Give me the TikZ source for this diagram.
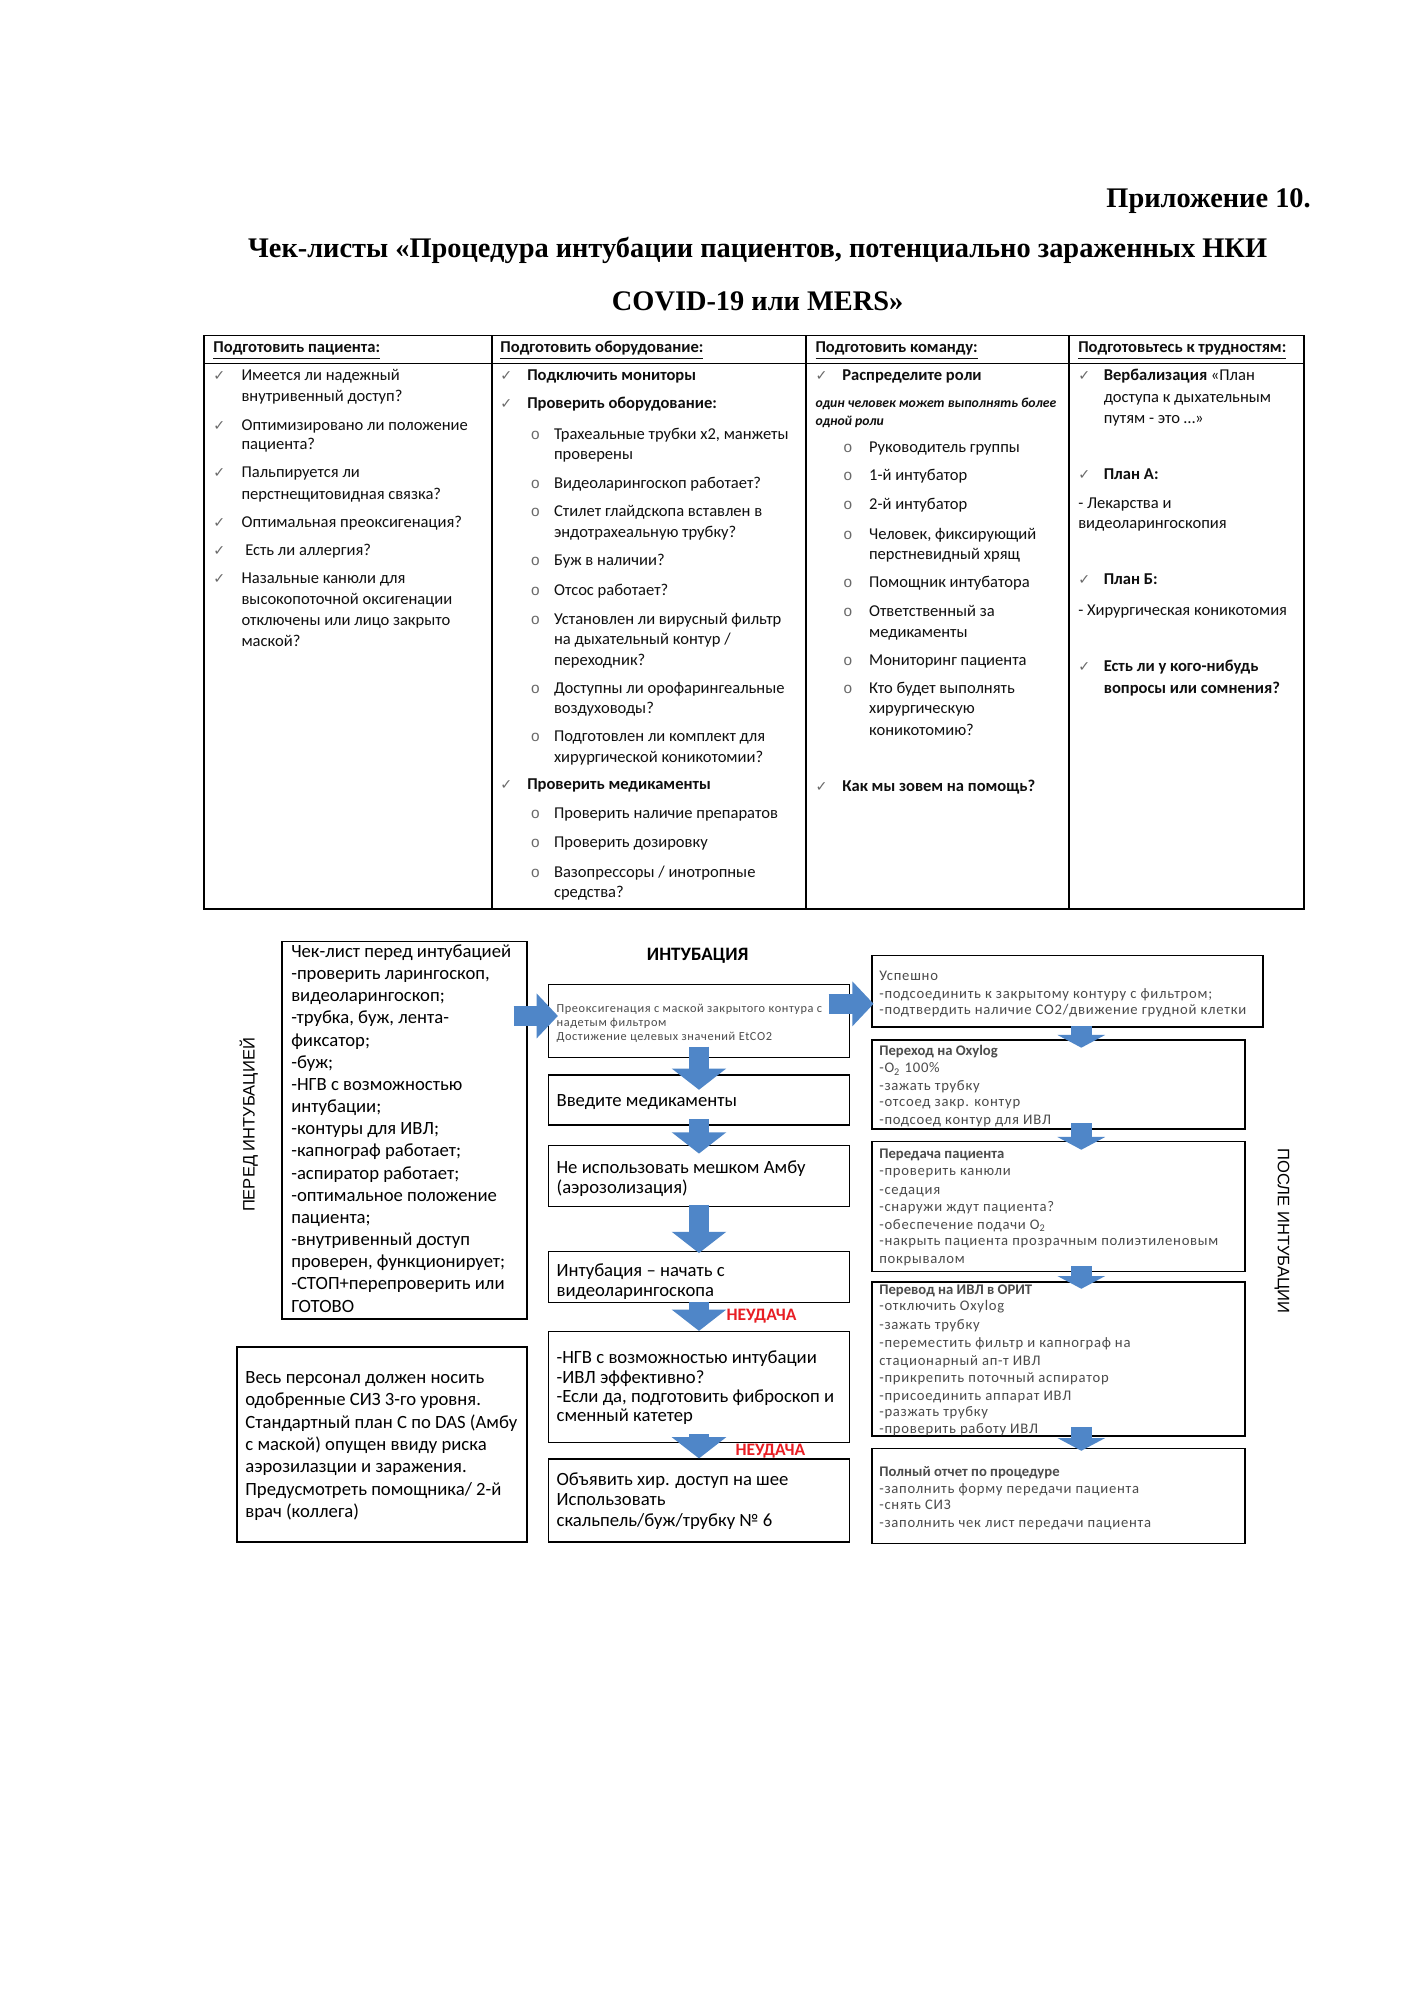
\documentclass[tikz,border=0pt]{standalone}
\usepackage{fontspec}
\setmainfont{Carlito}
\newfontfamily\titlefont{Liberation Serif}
\newfontfamily\capsfont{Liberation Sans}
\newfontfamily\tickfont{DejaVu Sans}
\newfontfamily\widefont[LetterSpace=5]{Carlito}
\usetikzlibrary{arrows.meta,calc,fit}

\definecolor{flowblue}{RGB}{79,134,200}
\definecolor{failred}{RGB}{232,30,36}
\definecolor{tickgray}{RGB}{105,105,105}
\definecolor{softtext}{RGB}{75,75,75}
\definecolor{inktext}{RGB}{15,15,15}

\newcommand{\px}{0.5393pt}
\newcommand{\tick}{{\tickfont\fontsize{6}{6}\selectfont\color{tickgray}✓}}
\newcommand{\ring}{{\capsfont\fontsize{6.5}{6}\selectfont\color{tickgray}o}}

\begin{document}
\begin{tikzpicture}[x=\px,y=-\px,
    ln/.style={anchor=west,inner sep=0pt,text height=0.7em,text depth=0.2em},
    cell/.style={ln,text=inktext,font=\fontsize{7.0}{8}\selectfont},
    cellb/.style={cell,font=\fontsize{7.0}{8}\selectfont\bfseries},
    note/.style={ln,text=inktext,font=\fontsize{5.8}{6}\selectfont\bfseries\itshape},
    flowtxt/.style={ln,font=\fontsize{7.9}{9}\selectfont},
    smalltxt/.style={ln,text=softtext,font=\widefont\fontsize{6.2}{7}\selectfont},
    tinytxt/.style={ln,text=softtext,font=\widefont\fontsize{5.2}{6}\selectfont},
    box/.style={draw,line width=0.65pt,inner sep=0pt},
    fail/.style={inner sep=0pt,text=failred,font=\fontsize{7.4}{8}\selectfont\bfseries},
    sidelabel/.style={inner sep=0pt,font=\capsfont\fontsize{7}{8}\selectfont},
    bigdown/.style={flowblue,line width=8.6pt,-{Triangle[width=22.6pt,length=9pt]}},
    bigright/.style={flowblue,line width=8.6pt,-{Triangle[width=18.5pt,length=9pt]}},
    smalldown/.style={flowblue,line width=8.6pt,-{Triangle[width=20pt,length=5.4pt]}},
]
\fill[white] (0,0) rectangle (1108,1568);
\useasboundingbox (0,0) rectangle (1108,1568);

% title
\node[anchor=east,inner sep=0pt,font=\titlefont\bfseries\fontsize{12}{14}\selectfont] (annex) at (1028,158) {Приложение 10.};
\node[inner sep=0pt,font=\titlefont\bfseries\fontsize{12}{14}\selectfont] (title1) at (594,196) {Чек-листы «Процедура интубации пациентов, потенциально зараженных НКИ};
\node[inner sep=0pt,font=\titlefont\bfseries\fontsize{12}{14}\selectfont] (title2) at (594,236) {COVID-19 или MERS»};

% checklist table
\draw[line width=0.8pt] (160,263) rectangle (1022,713);
\draw[line width=0.8pt] (160,285) -- (1022,285);
\foreach \xx in {386,632,838}
    \draw[line width=0.8pt] (\xx,263) -- (\xx,713);

\foreach \xx/\lbl [count=\i] in {167/Подготовить пациента:,392/Подготовить оборудование:,
                                 639/Подготовить команду:,845/Подготовьтесь к трудностям:}
    \node[cellb] (head-\i) at (\xx,272) {\underline{\lbl}};

% column 1
\foreach \yy in {294,333,370,409,431,453}
    \node[ln] (tick1-\yy) at (167,\yy) {\tick};
\foreach \yy/\lbl [count=\i] in {294/Имеется ли надежный,310/внутривенный доступ?,
        333/Оптимизировано ли положение,348/пациента?,370/Пальпируется ли,
        387/перстнещитовидная связка?,409/Оптимальная преоксигенация?,431/\ Есть ли аллергия?,
        453/Назальные канюли для,469/высокопоточной оксигенации,
        486/отключены или лицо закрыто,502/маской?}
    \node[cell] (pat-\i) at (189,\yy) {\lbl};

% column 2
\foreach \yy in {294,316,614}
    \node[ln] (tick2-\yy) at (392,\yy) {\tick};
\foreach \yy/\lbl [count=\i] in {294/Подключить мониторы,316/Проверить оборудование:,614/Проверить медикаменты}
    \node[cellb] (equ-\i) at (413,\yy) {\lbl};
\foreach \yy in {340,378,400,439,462,485,539,577,637,660,683}
    \node[ln] (ring2-\yy) at (416,\yy) {\ring};
\foreach \yy/\lbl [count=\i] in {340/Трахеальные трубки x2{,} манжеты,356/проверены,
        378/Видеоларингоскоп работает?,400/Стилет глайдскопа вставлен в,
        417/эндотрахеальную трубку?,439/Буж в наличии?,462/Отсос работает?,
        485/Установлен ли вирусный фильтр,501/{на дыхательный контур /},517/переходник?,
        539/Доступны ли орофарингеальные,555/воздуховоды?,
        577/Подготовлен ли комплект для,593/хирургической коникотомии?,
        637/Проверить наличие препаратов,660/Проверить дозировку,
        683/{Вазопрессоры / инотропные},699/средства?}
    \node[cell] (sub2-\i) at (434,\yy) {\lbl};

% column 3
\foreach \yy in {294,616}
    \node[ln] (tick3-\yy) at (639,\yy) {\tick};
\node[cellb] (team-1) at (660,294) {Распределите роли};
\node[cellb] (team-2) at (660,616) {Как мы зовем на помощь?};
\node[note] (note-1) at (639,315) {один человек может выполнять более};
\node[note] (note-2) at (639,329) {одной роли};
\foreach \yy in {350,372,395,418,456,479,517,539}
    \node[ln] (ring3-\yy) at (661,\yy) {\ring};
\foreach \yy/\lbl [count=\i] in {350/Руководитель группы,372/1-й интубатор,395/2-й интубатор,
        418/Человек{,} фиксирующий,434/перстневидный хрящ,456/Помощник интубатора,
        479/Ответственный за,495/медикаменты,517/Мониторинг пациента,
        539/Кто будет выполнять,555/хирургическую,572/коникотомию?}
    \node[cell] (sub3-\i) at (681,\yy) {\lbl};

% column 4
\foreach \yy in {294,371,454,522}
    \node[ln] (tick4-\yy) at (845,\yy) {\tick};
\foreach \yy/\lbl [count=\i] in {294/\textbf{Вербализация} «План,311/доступа к дыхательным,
        327/путям - это …»,371/\textbf{План А:},454/\textbf{План Б:},
        522/\textbf{Есть ли у кого-нибудь},539/\textbf{вопросы или сомнения?}}
    \node[cell] (hard-\i) at (865,\yy) {\lbl};
\foreach \yy/\lbl [count=\i] in {394/- Лекарства и,410/видеоларингоскопия,478/- Хирургическая коникотомия}
    \node[cell] (plan-\i) at (845,\yy) {\lbl};

% before intubation
\node[sidelabel,rotate=90] (before) at (195,882) {ПЕРЕД ИНТУБАЦИЕЙ};
\node[box,fit={(221,738) (413,1034)}] (l1) {};
\foreach \lbl [count=\i] in {Чек-лист перед интубацией,-проверить ларингоскоп{,},
        видеоларингоскоп;,-трубка{,} буж{,} лента-,фиксатор;,-буж;,-НГВ с возможностью,
        интубации;,-контуры для ИВЛ;,-капнограф работает;,-аспиратор работает;,
        -оптимальное положение,пациента;,-внутривенный доступ,
        проверен{,} функционирует;,-СТОП+перепроверить или,ГОТОВО}
    \node[flowtxt] (chk-\i) at (228,{746+17.375*(\i-1)}) {\lbl};

\node[box,fit={(186,1056) (413,1209)}] (l2) {};
\foreach \lbl [count=\i] in {Весь персонал должен носить,одобренные СИЗ 3-го уровня.,
        Стандартный план С по DAS (Амбу,с маской) опущен ввиду риска,
        аэрозилазции и заражения.,Предусмотреть помощника/ 2-й,врач (коллега)}
    \node[flowtxt] (ppe-\i) at (192,{1080+17.5*(\i-1)}) {\lbl};

% intubation
\node[inner sep=0pt,font=\fontsize{8}{9}\selectfont\bfseries] (intub) at (547,749) {ИНТУБАЦИЯ};
\node[box,fit={(430,772) (666,829)}] (c1) {};
\node[box,fit={(430,843) (666,882)}] (c2) {};
\node[box,fit={(430,898) (666,946)}] (c3) {};
\node[box,fit={(430,981) (666,1021)}] (c4) {};
\node[box,fit={(430,1044) (666,1131)}] (c5) {};
\node[box,fit={(430,1144) (666,1209)}] (c6) {};

\foreach \yy/\lbl [count=\i] in {789/Преоксигенация  с маской  закрытого контура с,
        800/надетым фильтром,811/Достижение  целевых  значений  EtCO2}
    \node[tinytxt] (preox-\i) at (436,\yy) {\lbl};
\node[flowtxt] (drugs) at (436,863) {Введите медикаменты};
\node[flowtxt] (ambu-1) at (436,915) {Не использовать мешком Амбу};
\node[flowtxt] (ambu-2) at (436,931) {(аэрозолизация)};
\node[flowtxt] (vl-1) at (436,996) {Интубация – начать с};
\node[flowtxt] (vl-2) at (436,1012) {видеоларингоскопа};
\foreach \yy/\lbl [count=\i] in {1064/-НГВ с возможностью интубации,1080/-ИВЛ эффективно?,
        1095/-Если да{,} подготовить фиброскоп и,1110/сменный катетер}
    \node[flowtxt] (sga-\i) at (436,\yy) {\lbl};
\foreach \yy/\lbl [count=\i] in {1160/Объявить хир. доступ на шее,1176/Использовать,
        1192/{скальпель/буж/трубку № 6}}
    \node[flowtxt] (fona-\i) at (436,\yy) {\lbl};

\node[fail] (fail1) at (597,1032) {НЕУДАЧА};
\node[fail] (fail2) at (604,1138) {НЕУДАЧА};

% after intubation
\node[sidelabel,rotate=-90] (after) at (1005,965) {ПОСЛЕ ИНТУБАЦИИ};
\node[box,fit={(683.5,749) (990,805)}] (r1) {};
\node[box,fit={(683.5,815.5) (976,885)}] (r2) {};
\node[box,fit={(683.5,895) (976,997)}] (r3) {};
\node[box,fit={(683.5,1005) (976,1126)}] (r4) {};
\node[box,fit={(683.5,1135.5) (976,1210)}] (r5) {};

\foreach \yy/\lbl [count=\i] in {764/Успешно,778/-подсоединить к закрытому  контуру с фильтром;,
        791/{-подтвердить  наличие  CO2/движение  грудной клетки}}
    \node[smalltxt] (ok-\i) at (689,\yy) {\lbl};
\foreach \yy/\lbl [count=\i] in {823/{\normalfont\bfseries Переход на Oxylog},836.5/-O\textsubscript{2} 100\%,
        850/-зажать  трубку,863/-отсоед  закр.  контур,877/-подсоед контур для  ИВЛ}
    \node[smalltxt] (oxy-\i) at (689,\yy) {\lbl};
\foreach \yy/\lbl [count=\i] in {904/{\normalfont\bfseries Передача пациента},917/-проверить  канюли,
        932/-седация,945/-снаружи  ждут пациента?,959/-обеспечение  подачи  O\textsubscript{2},
        972/-накрыть  пациента  прозрачным  полиэтиленовым,986/покрывалом}
    \node[smalltxt] (move-\i) at (689,\yy) {\lbl};
\foreach \yy/\lbl [count=\i] in {1010/{\normalfont\bfseries Перевод на ИВЛ в ОРИТ},1023/-отключить  Oxylog,
        1038/-зажать  трубку,1052/-переместить  фильтр и капнограф  на,
        1066/стационарный  ап-т ИВЛ,1079/-прикрепить  поточный аспиратор,
        1093/-присоединить  аппарат ИВЛ,1106/-разжать  трубку,1119/-проверить  работу ИВЛ}
    \node[smalltxt] (icu-\i) at (689,\yy) {\lbl};
\foreach \yy/\lbl [count=\i] in {1153/{\normalfont\bfseries Полный отчет по процедуре},
        1166/-заполнить форму передачи  пациента,1179/-снять СИЗ,
        1193/-заполнить чек лист передачи  пациента}
    \node[smalltxt] (rep-\i) at (689,\yy) {\lbl};

% block arrows
\draw[bigright] ($(l1.east |- c1.west)+(-11,-4)$) -- ($(c1.west)+(8,-4)$);
\draw[bigright] ($(c1.east)+(-17,-13.5)$) -- ($(r1.west)+(2,10)$);
\draw[bigdown] ($(c1.south)+(0,-9)$) -- ($(c2.north)+(0,12)$);
\draw[bigdown] ($(c2.south)+(0,-5)$) -- ($(c3.north)+(0,7)$);
\draw[bigdown] ($(c3.south)+(0,-2)$) -- ($(c4.north)+(0,2)$);
\draw[bigdown] ($(c4.south)+(0,-1)$) -- (c5.north);
\draw[bigdown] ($(c5.south)+(0,-7)$) -- (c6.north);
\draw[smalldown] ($(r1.south)+(11,-1)$) -- ($(r2.north)+(18,6.5)$);
\draw[smalldown] ($(r2.south)+(18,-5)$) -- ($(r3.north)+(18,7)$);
\draw[smalldown] ($(r3.south)+(18,-5)$) -- ($(r4.north)+(18,6)$);
\draw[smalldown] ($(r4.south)+(18,-8)$) -- ($(r5.north)+(18,2.5)$);
\end{tikzpicture}
\end{document}
